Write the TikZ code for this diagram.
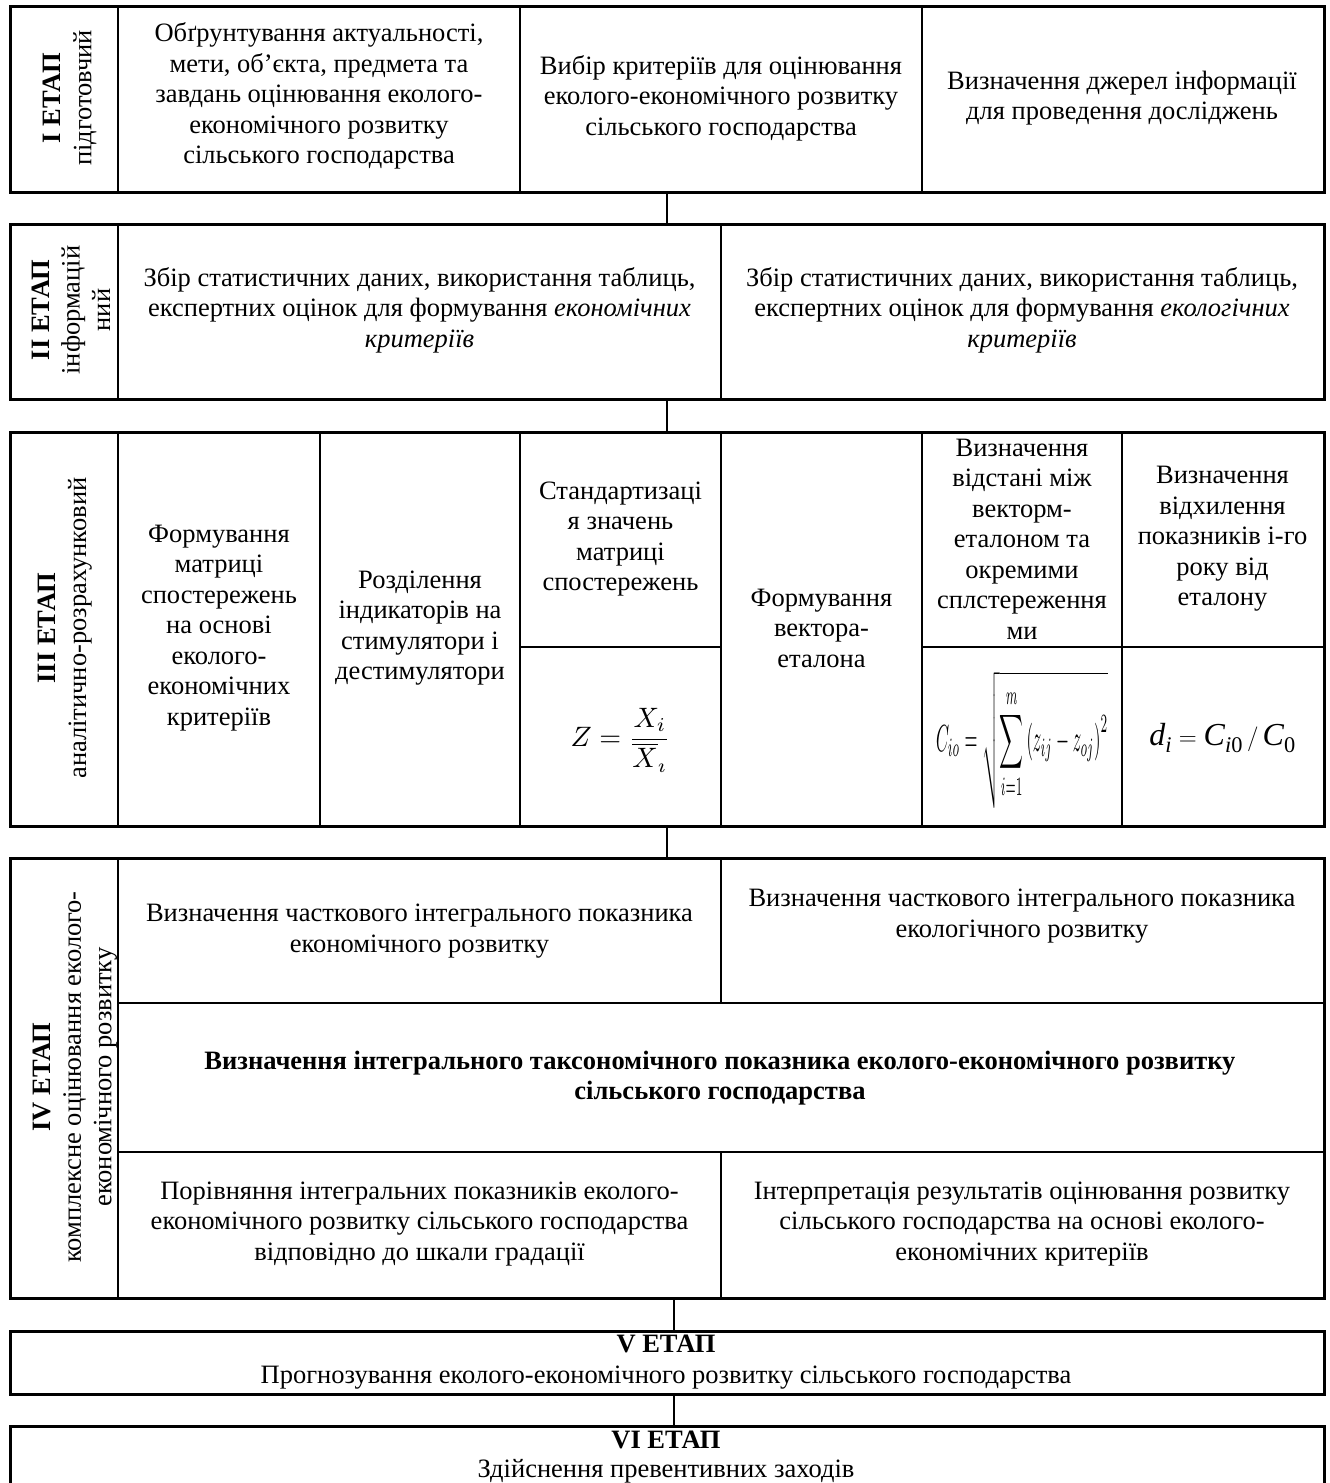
\documentclass[tikz,border=0pt]{standalone}
\usepackage{fontspec}
\usepackage{amsmath}
\usepackage{graphicx}
\setmainfont{Liberation Serif}
\begin{document}
\begin{tikzpicture}[x=1pt,y=-1pt,
  frame/.style={draw, line width=2.6pt, inner sep=0pt, anchor=north west},
  div/.style={line width=2.4pt},
  conn/.style={line width=2pt},
  txt/.style={align=center, inner sep=0pt, font=\fontsize{26.5}{30.5}\selectfont},
  lab/.style={rotate=90, align=center, inner sep=0pt, font=\fontsize{26.5}{30.5}\selectfont}]
\clip (0,0) rectangle (1330,1483);
\fill[white] (0,0) rectangle (1330,1483);
% ---------- Stage I
\node[frame, minimum width=1314pt, minimum height=186pt] (s1) at (9,5) {};
\draw[div] (118,5) -- (118,191);
\draw[div] (520,5) -- (520,191);
\draw[div] (922,5) -- (922,191);
\node[lab] (l1) at (70,98) {\textbf{I ЕТАП}\\підготовчий};
\node[txt] (t11) at (319,96) {Обґрунтування актуальності,\\мети, об’єкта, предмета та\\завдань оцінювання еколого-\\економічного розвитку\\сільського господарства};
\node[txt] (t12) at (721,98) {Вибір критеріїв для оцінювання\\еколого-економічного розвитку\\сільського господарства};
\node[txt] (t13) at (1122,98) {Визначення джерел інформації\\для проведення досліджень};
% ---------- Stage II
\node[frame, minimum width=1314pt, minimum height=175pt] (s2) at (9,223) {};
\draw[div] (118,223) -- (118,398);
\draw[div] (721,223) -- (721,398);
\node[lab] (l2) at (71,310) {\textbf{II ЕТАП}\\інформацій\\ний};
\node[txt] (t21) at (419.5,310) {Збір статистичних даних, використання таблиць,\\експертних оцінок для формування \textit{економічних}\\\textit{критеріїв}};
\node[txt] (t22) at (1022,310) {Збір статистичних даних, використання таблиць,\\експертних оцінок для формування \textit{екологічних}\\\textit{критеріїв}};
% ---------- Stage III
\node[frame, minimum width=1314pt, minimum height=394pt] (s3) at (9,431) {};
\foreach \xx in {118,320,520,721,922,1122} \draw[div] (\xx,431) -- (\xx,825);
\draw[div] (520,647) -- (721,647);
\draw[div] (922,647) -- (1323,647);
\node[lab] (l3) at (65,628) {\textbf{III ЕТАП}\\аналітично-розрахунковий};
\node[txt] (t31) at (219,628) {Формування\\матриці\\спостережень\\на основі\\еколого-\\економічних\\критеріїв};
\node[txt] (t32) at (420,628) {Розділення\\індикаторів на\\стимулятори і\\дестимулятори};
\node[txt] (t33) at (620.5,539) {Стандартизаці\\я значень\\матриці\\спостережень};
\node[txt] (t34) at (821.5,628) {Формування\\вектора-\\еталона};
\node[txt] (t35) at (1022,539) {Визначення\\відстані між\\векторм-\\еталоном та\\окремими\\сплстереження\\ми};
\node[txt] (t36) at (1222.5,539) {Визначення\\відхилення\\показників і-го\\року від\\еталону};
\node[inner sep=0pt] (f1) at (620.5,740) {\resizebox{100pt}{!}{$\displaystyle Z=\frac{X_i}{\overline{X}_{\imath}}$}};
\node[inner sep=0pt] (f2) at (1022,740) {\resizebox{172pt}{80pt}{$\displaystyle C_{io}=\sqrt{\sum_{i=1}^{m}\left(z_{ij}-z_{oj}\right)^{2}}$}};
\node[inner sep=0pt, font=\fontsize{32}{36}\selectfont] (f3) at (1222.5,738) {$\textit{d}_{\text{\itshape i}} = \textit{C}_{\text{\itshape i}\text{0}}\,/\,\textit{C}_{\text{0}}$};
% ---------- Stage IV
\node[frame, minimum width=1314pt, minimum height=440pt] (s4) at (9,857) {};
\draw[div] (118,857) -- (118,1297);
\draw[div] (118,1003) -- (1323,1003);
\draw[div] (118,1152) -- (1323,1152);
\draw[div] (721,857) -- (721,1003);
\draw[div] (721,1152) -- (721,1297);
\node[lab] (l4) at (75,1077) {\textbf{IV ЕТАП}\\комплексне оцінювання еколого-\\економічного розвитку};
\node[txt] (t41) at (419.5,931) {Визначення часткового інтегрального показника\\економічного розвитку};
\node[txt] (t42) at (1022,916) {Визначення часткового інтегрального показника\\екологічного розвитку};
\node[txt] (t43) at (720,1078) {\textbf{Визначення інтегрального таксономічного показника еколого-економічного розвитку}\\\textbf{сільського господарства}};
\node[txt] (t44) at (419.5,1224) {Порівняння інтегральних показників еколого-\\економічного розвитку сільського господарства\\відповідно до шкали градації};
\node[txt] (t45) at (1022,1224) {Інтерпретація результатів оцінювання розвитку\\сільського господарства на основі еколого-\\економічних критеріїв};
% ---------- Stage V
\node[frame, minimum width=1314pt, minimum height=63pt] (s5) at (9,1330) {};
\node[txt] (t5) at (666,1362) {\textbf{V ЕТАП}\\Прогнозування еколого-економічного розвитку сільського господарства};
% ---------- Stage VI
\node[frame, minimum width=1314pt, minimum height=75pt] (s6) at (9,1425) {};
\node[txt, font=\fontsize{26.5}{28.5}\selectfont] (t6) at (666,1457) {\textbf{VI ЕТАП}\\Здійснення превентивних заходів};
% ---------- connectors
\coordinate (k1) at (667,0);
\coordinate (k2) at (674,0);
\draw[conn] (s1.south -| k1) -- (s2.north -| k1);
\draw[conn] (s2.south -| k1) -- (s3.north -| k1);
\draw[conn] (s3.south -| k1) -- (s4.north -| k1);
\draw[conn] (s4.south -| k2) -- (s5.north -| k2);
\draw[conn] (s5.south -| k2) -- (s6.north -| k2);
\end{tikzpicture}
\end{document}
